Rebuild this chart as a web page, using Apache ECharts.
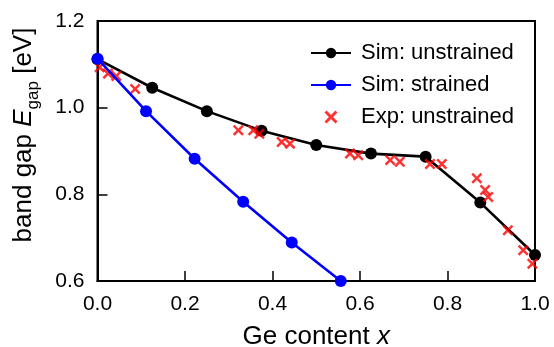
<!DOCTYPE html>
<html><head><meta charset="utf-8">
<script src="https://cdn.jsdelivr.net/npm/echarts@6/dist/echarts.min.js"></script>
<style>html,body{margin:0;padding:0;background:#fff}#c{width:554px;height:347px}</style>
</head><body><div id="c"></div>
<script>
var simX = [0, 0.125, 0.25, 0.375, 0.5, 0.625, 0.75, 0.875, 1.0];
var simUnstrained = [1.112, 1.046, 0.992, 0.947, 0.914, 0.894, 0.887, 0.781, 0.660];
var strainedX = [0, 0.111, 0.222, 0.333, 0.444, 0.556];
var simStrained = [1.113, 0.992, 0.882, 0.783, 0.689, 0.600];
var expX = [0.005, 0.024, 0.043, 0.086, 0.322, 0.356, 0.370, 0.421, 0.440, 0.577, 0.596, 0.669, 0.691, 0.760, 0.787, 0.867, 0.886, 0.893, 0.938, 0.973, 0.994];
var expY = [1.093, 1.079, 1.073, 1.043, 0.948, 0.948, 0.940, 0.921, 0.917, 0.894, 0.890, 0.879, 0.875, 0.870, 0.870, 0.837, 0.810, 0.794, 0.717, 0.671, 0.640];
var xTicks = [0, 0.2, 0.4, 0.6, 0.8, 1.0];
var yTicks = [0.6, 0.8, 1.0, 1.2];
var names = ['Sim: unstrained', 'Sim: strained', 'Exp: unstrained'];

function zip(a, b) { return a.map(function (v, i) { return [v, b[i]]; }); }
var FONT = 'Liberation Sans';
var cross = 'path://M1.6,0L5,3.4L8.4,0L10,1.6L6.6,5L10,8.4L8.4,10L5,6.6L1.6,10L0,8.4L3.4,5L0,1.6Z';

var chart = echarts.init(document.getElementById('c'), null, {renderer: 'canvas'});
chart.setOption({
  animation: false,
  backgroundColor: '#fff',
  grid: {left: 97.5, right: 19, top: 21, bottom: 66, show: true, borderColor: '#000', borderWidth: 2,
    backgroundColor: 'transparent', containLabel: false, outerBoundsMode: 'none'},
  legend: {
    orient: 'vertical', left: 305, top: 37, itemWidth: 40, itemHeight: 13, itemGap: 10,
    data: [names[0], names[1], names[2]],
    textStyle: {fontFamily: FONT, fontSize: 22, color: '#000', padding: [0, 0, 0, 5]}
  },
  xAxis: {
    type: 'value', min: 0, max: 1, interval: 0.2,
    name: '{n|Ge content }{i|x}', nameLocation: 'middle', nameGap: 43,
    nameTextStyle: {rich: {n: {fontFamily: FONT, fontSize: 26, color: '#000'}, i: {fontFamily: FONT, fontSize: 26, fontStyle: 'italic', color: '#000'}}},
    axisLine: {show: true, lineStyle: {color: '#000', width: 2}},
    axisTick: {show: true, inside: true, length: 10, lineStyle: {color: '#000', width: 1.5}},
    splitLine: {show: false},
    axisLabel: {fontFamily: FONT, fontSize: 21, color: '#000', margin: 13,
      formatter: function (v) { return v.toFixed(1); }}
  },
  yAxis: {
    type: 'value', min: 0.6, max: 1.2, interval: 0.2,
    name: '{n|band gap }{i|E}{s|gap}{n| [eV]}', nameLocation: 'middle', nameGap: 56, nameRotate: 90,
    nameTextStyle: {padding: [0, 0, 0, 32], rich: {
      n: {fontFamily: FONT, fontSize: 26, color: '#000', lineHeight: 36, verticalAlign: 'middle'},
      i: {fontFamily: FONT, fontSize: 26, fontStyle: 'italic', color: '#000', lineHeight: 36, verticalAlign: 'middle'},
      s: {fontFamily: FONT, fontSize: 17, color: '#000', lineHeight: 36, verticalAlign: 'bottom'}
    }},
    axisLine: {show: true, lineStyle: {color: '#000', width: 2}},
    axisTick: {show: true, inside: true, length: 10, lineStyle: {color: '#000', width: 1.5}},
    splitLine: {show: false},
    axisLabel: {fontFamily: FONT, fontSize: 21, color: '#000', margin: 13,
      formatter: function (v) { return v.toFixed(1); }}
  },
  series: [
    {name: names[0], type: 'line', data: zip(simX, simUnstrained), symbol: 'circle', symbolSize: 12,
      lineStyle: {color: '#000', width: 2.6}, itemStyle: {color: '#000'}, z: 2},
    {name: names[2], type: 'scatter', data: zip(expX, expY), symbol: cross, symbolSize: 11,
      itemStyle: {color: '#ff0000'}, z: 3},
    {name: names[1], type: 'line', data: zip(strainedX, simStrained), symbol: 'circle', symbolSize: 12,
      lineStyle: {color: '#0000ff', width: 2.6}, itemStyle: {color: '#0000ff'}, z: 4}
  ]
});
</script></body></html>
